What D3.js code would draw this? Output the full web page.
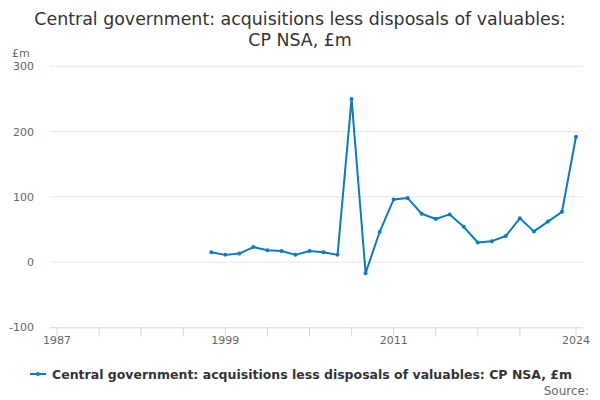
<!DOCTYPE html>
<html><head><meta charset="utf-8">
<script src="https://cdn.jsdelivr.net/npm/d3@7/dist/d3.min.js"></script>
<style>body{margin:0;background:#fff;font-family:"DejaVu Sans",sans-serif;}</style>
</head><body><svg id="c" width="600" height="400"></svg>
<script>
const years = d3.range(1987, 2025).map(String);
const dataYears = d3.range(1998, 2025).map(String);
const values = [15, 11, 13, 23, 18, 17, 11, 17, 15, 11, 250, -17, 46, 96, 98, 74, 66, 73, 54, 30, 32, 40, 67, 47, 62, 77, 192];
const yTicks = [-100, 0, 100, 200, 300];
const xLabelYears = ["1987", "1999", "2011", "2024"];
const xTickYears = ["1987","1990","1993","1996","1999","2002","2005","2008","2011","2014","2017","2020","2024"];
const title = ["Central government: acquisitions less disposals of valuables:", "CP NSA, £m"];
const seriesName = "Central government: acquisitions less disposals of valuables: CP NSA, £m";
const color = "#0a7bc1";

const svg = d3.select("#c");
const L = 50, R = 583, T = 66.3, B = 327.3;
const x = d3.scaleBand().domain(years).range([L, R]);
const y = d3.scaleLinear().domain([-100, 300]).range([B, T]);
const cx = d => x(d) + x.bandwidth() / 2;

svg.append("g").selectAll("text").data(title).join("text")
  .attr("x", 300).attr("y", (d, i) => 25 + i * 21)
  .attr("text-anchor", "middle").attr("font-size", 17.4).attr("fill", "#333").text(d => d);

svg.append("text").attr("x", 12).attr("y", 57).attr("font-size", 11).attr("fill", "#666").text("£m");

// gridlines
svg.append("g").selectAll("line").data(yTicks.filter(v => v !== -100)).join("line")
  .attr("x1", L).attr("x2", R).attr("y1", d => y(d)).attr("y2", d => y(d))
  .attr("stroke", "#e6e6e6").attr("stroke-width", 1);

// y labels
svg.append("g").selectAll("text").data(yTicks).join("text")
  .attr("x", 34).attr("y", d => y(d) + 4).attr("text-anchor", "end")
  .attr("font-size", 11).attr("fill", "#666").text(d => d);

// x axis
const xAxis = d3.axisBottom(x).tickValues(xTickYears).tickSize(9)
  .tickFormat(d => xLabelYears.includes(d) ? d : "");
const gx = svg.append("g").attr("transform", `translate(0,${B})`).call(xAxis);
gx.select(".domain").attr("stroke", "#ccd6eb").attr("d", `M${L},0.5H${R}`);
gx.selectAll(".tick line").attr("stroke", "#ccd6eb");
gx.selectAll(".tick text").attr("font-size", 11).attr("fill", "#666").attr("font-family", "DejaVu Sans").attr("dy", "0.45em");

const pts = dataYears.map((d, i) => ({yr: d, v: values[i]}));
svg.append("path").datum(pts)
  .attr("d", d3.line().x(d => cx(d.yr)).y(d => y(d.v)))
  .attr("fill", "none").attr("stroke", color).attr("stroke-width", 2).attr("stroke-linejoin", "round");
svg.append("g").selectAll("circle").data(pts).join("circle")
  .attr("cx", d => cx(d.yr)).attr("cy", d => y(d.v)).attr("r", 2).attr("fill", color);

// legend
const lg = svg.append("g");
lg.append("line").attr("x1", 30).attr("x2", 46).attr("y1", 374).attr("y2", 374).attr("stroke", color).attr("stroke-width", 2);
lg.append("circle").attr("cx", 38).attr("cy", 374).attr("r", 2).attr("fill", color);
lg.append("text").attr("x", 52).attr("y", 378.5).attr("font-size", 12.5).attr("font-weight", "bold").attr("fill", "#333").text(seriesName);

svg.append("text").attr("x", 589).attr("y", 395).attr("text-anchor", "end").attr("font-size", 12).attr("fill", "#666").text("Source:");
</script></body></html>
